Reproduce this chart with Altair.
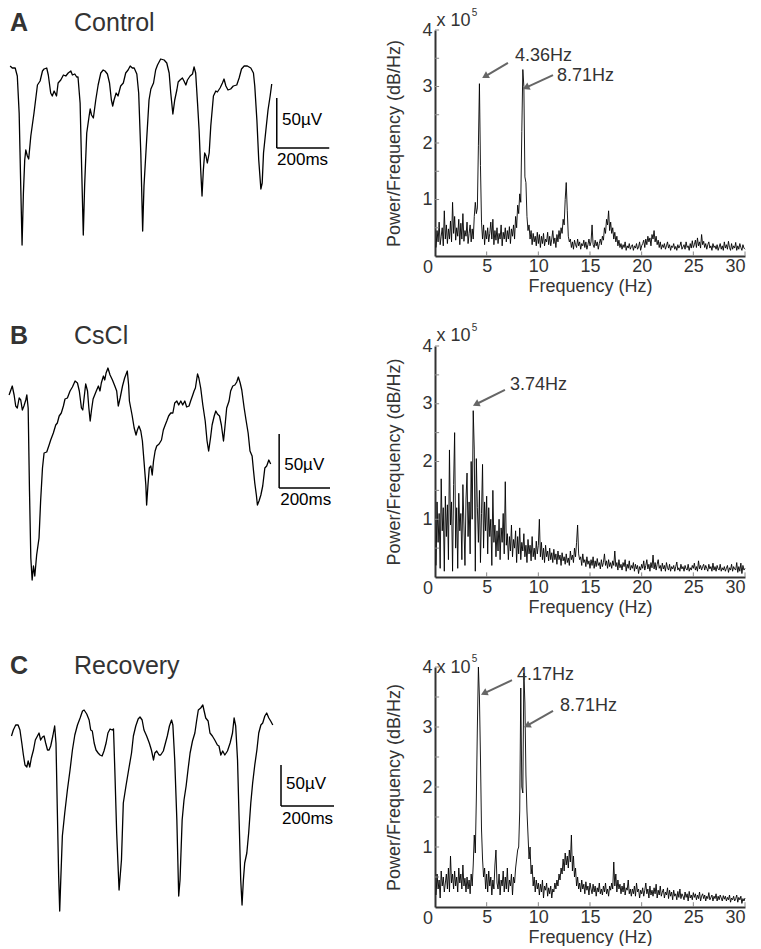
import altair as alt
import pandas as pd

FONT = "Liberation Sans"
INK = "#333333"

# ---------------- raw traces (time in ms, amplitude in µV, relative) ----------------
TA_T = [23,31,42,50,57,63,68,73,78,82,88,93,101,113,126,136,145,151,161,167,
        176,182,189,198,204,214,224,233,242,252,258,267,274,279,287,293,299,304,312,321,
        325,330,337,346,355,365,374,381,390,398,405,410,415,423,430,440,450,459,468,476,
        484,491,501,508,516,523,528,538,547,554,564,572,579,591,604,614,623,629,637,644,
        652,657,664,673,679,686,692,702,711,717,723,730,736,742,747,752,757,762,767,774,
        780,790,799,805,815,824,830,837,845,855,865,878,887,896,906,918,931,941,946,954,
        961,969,974,979,988,996,1004,1010]
TA_V = [-13,-15,-15,-23,-60,-133,-192,-140,-107,-97,-103,-106,-83,-60,-32,-28,-18,-16,-15,-22,
        -40,-43,-38,-43,-30,-27,-22,-23,-20,-18,-22,-21,-24,-24,-50,-117,-182,-133,-80,-63,
        -56,-62,-65,-47,-32,-20,-17,-18,-21,-30,-47,-53,-47,-40,-43,-33,-30,-20,-17,-13,
        -15,-15,-21,-40,-100,-178,-133,-87,-47,-36,-30,-17,-12,-6,-7,-10,-20,-40,-61,-47,
        -37,-29,-27,-25,-28,-32,-27,-23,-21,-14,-20,-50,-77,-117,-143,-117,-100,-103,-110,-100,
        -73,-43,-38,-39,-35,-30,-26,-33,-37,-36,-33,-32,-25,-16,-13,-13,-15,-20,-33,-67,
        -107,-136,-130,-100,-77,-57,-43,-31]

TB_T = [19,31,38,44,50,57,63,69,75,82,86,91,96,101,106,111,116,123,132,138,
        145,151,161,170,176,186,195,201,208,216,224,230,239,249,258,268,277,284,292,297,
        302,308,315,320,325,330,336,342,348,356,362,367,375,380,385,392,400,409,418,425,
        431,438,447,455,465,470,473,478,483,491,498,503,509,516,522,528,535,538,543,548,
        554,559,564,570,576,585,594,601,608,614,621,629,637,644,652,659,667,674,682,689,
        698,704,712,717,722,730,735,742,750,759,766,772,779,785,793,799,805,813,820,828,
        833,840,849,855,863,871,878,884,891,897,906,913,921,928,936,941,946,952,956,962,
        969,976,984,991,999,1006]
TB_V = [-37,-28,-37,-48,-50,-40,-42,-52,-48,-42,-37,-50,-133,-200,-222,-208,-218,-197,-180,-143,
        -110,-95,-94,-87,-82,-75,-67,-65,-58,-55,-48,-41,-40,-33,-29,-23,-25,-33,-50,-52,
        -40,-26,-33,-50,-63,-52,-41,-37,-33,-28,-33,-25,-18,-22,-15,-10,-17,-22,-28,-33,
        -48,-40,-28,-20,-13,-27,-43,-50,-57,-70,-77,-72,-68,-73,-83,-103,-127,-147,-127,-110,
        -108,-117,-103,-93,-88,-86,-82,-72,-67,-63,-58,-55,-55,-45,-43,-47,-43,-47,-43,-49,
        -48,-43,-37,-33,-30,-16,-20,-30,-47,-63,-83,-93,-80,-67,-58,-53,-56,-58,-67,-83,
        -70,-50,-43,-33,-28,-27,-24,-19,-25,-32,-50,-62,-75,-93,-98,-112,-125,-137,-147,-143,
        -137,-128,-110,-108,-102,-106]

TC_T = [28,35,44,53,60,67,73,79,86,91,97,103,111,118,126,132,138,145,151,157,
        164,170,176,184,191,196,201,206,210,214,220,229,239,249,258,267,277,287,296,302,
        312,321,327,333,340,347,355,362,370,377,385,392,400,408,413,418,425,434,443,450,
        460,470,481,488,497,506,513,521,528,538,548,556,564,569,576,585,591,601,609,616,
        624,632,637,644,652,659,664,672,679,687,694,702,711,720,727,733,742,750,755,761,
        770,777,786,795,805,811,818,825,833,843,853,862,868,874,881,887,893,898,903,908,
        916,923,931,938,946,954,961,969,976,984,991,999,1006,1014]
TC_V = [-43,-37,-32,-32,-37,-50,-62,-72,-74,-68,-74,-65,-57,-47,-43,-40,-47,-44,-43,-50,
        -57,-57,-53,-43,-33,-50,-117,-183,-218,-187,-143,-120,-97,-77,-57,-42,-32,-25,-18,-17,
        -21,-27,-37,-38,-50,-57,-60,-62,-63,-58,-50,-40,-36,-37,-36,-77,-140,-197,-167,-110,
        -93,-77,-60,-43,-33,-26,-24,-27,-37,-43,-50,-57,-67,-60,-58,-62,-62,-58,-50,-43,
        -33,-27,-32,-67,-127,-203,-187,-127,-107,-93,-77,-60,-48,-40,-27,-17,-15,-12,-18,-25,
        -28,-40,-43,-47,-52,-53,-62,-58,-62,-58,-50,-40,-25,-33,-67,-127,-187,-212,-187,-170,
        -160,-140,-110,-90,-72,-57,-40,-32,-30,-23,-20,-25,-28,-32]

# ---------------- spectra (x 10^5), frequency grid 0.1 .. 30.0 Hz ----------------
FREQ = [round(0.1 * i, 1) for i in range(1, 301)]

SA = [0.15,0.45,0.25,0.60,0.20,0.35,0.50,0.18,0.80,0.30,
      0.55,0.22,0.48,0.30,0.62,0.25,0.95,0.40,0.70,0.28,
      0.50,0.35,0.65,0.20,0.58,0.30,0.75,0.26,0.45,0.35,
      0.60,0.22,0.40,0.55,0.25,0.48,0.30,0.70,0.95,0.75,
      0.85,1.95,3.05,1.60,0.60,0.30,0.55,0.20,0.45,0.30,
      0.50,0.25,0.40,0.60,0.30,0.65,0.20,0.45,0.28,0.50,
      0.22,0.40,0.30,0.55,0.18,0.42,0.30,0.50,0.25,0.45,
      0.30,0.52,0.22,0.48,0.35,0.55,0.30,0.70,0.50,0.90,
      0.75,1.10,0.95,2.20,3.30,3.00,1.40,1.30,0.70,0.45,
      0.55,0.30,0.45,0.20,0.40,0.25,0.35,0.18,0.42,0.22,
      0.38,0.15,0.35,0.22,0.40,0.18,0.30,0.25,0.42,0.20,
      0.35,0.18,0.30,0.45,0.22,0.32,0.15,0.38,0.25,0.45,
      0.30,0.50,0.40,0.65,0.55,1.00,1.30,0.80,0.35,0.25,
      0.30,0.15,0.25,0.12,0.28,0.20,0.15,0.30,0.18,0.25,
      0.12,0.22,0.18,0.28,0.15,0.25,0.12,0.20,0.30,0.18,
      0.25,0.55,0.20,0.15,0.28,0.18,0.25,0.12,0.22,0.30,
      0.20,0.35,0.28,0.50,0.40,0.65,0.55,0.80,0.45,0.60,
      0.40,0.50,0.30,0.42,0.25,0.35,0.18,0.28,0.15,0.22,
      0.12,0.20,0.15,0.25,0.10,0.18,0.14,0.22,0.12,0.17,
      0.20,0.10,0.18,0.14,0.22,0.12,0.16,0.25,0.10,0.18,
      0.22,0.28,0.15,0.30,0.20,0.35,0.25,0.32,0.18,0.38,
      0.30,0.45,0.25,0.35,0.20,0.28,0.15,0.25,0.12,0.20,
      0.15,0.22,0.12,0.18,0.25,0.14,0.20,0.10,0.18,0.15,
      0.22,0.12,0.17,0.10,0.20,0.14,0.18,0.25,0.12,0.16,
      0.20,0.12,0.25,0.15,0.18,0.10,0.22,0.14,0.27,0.15,
      0.20,0.28,0.15,0.32,0.18,0.25,0.14,0.38,0.20,0.26,
      0.15,0.22,0.12,0.20,0.25,0.14,0.18,0.10,0.22,0.15,
      0.18,0.12,0.20,0.10,0.16,0.22,0.12,0.18,0.10,0.25,
      0.14,0.20,0.12,0.26,0.15,0.10,0.22,0.12,0.18,0.14,
      0.24,0.10,0.18,0.12,0.22,0.15,0.10,0.20,0.14,0.12]

SB = [0.20,1.30,0.60,1.10,0.15,1.70,0.80,1.20,0.10,1.40,
      0.70,1.25,0.30,2.20,0.90,1.30,0.10,1.60,2.50,0.50,
      1.20,0.15,1.45,0.80,1.10,0.30,1.60,0.90,0.20,1.35,
      1.80,0.70,1.30,0.40,2.00,1.00,2.88,2.20,0.10,2.05,
      1.20,0.60,1.50,0.25,1.10,1.95,0.50,1.30,0.80,1.40,
      0.40,1.20,0.70,1.00,0.20,1.50,0.60,0.90,0.35,0.80,
      0.45,1.00,0.30,0.85,0.60,1.10,0.40,1.65,0.55,0.75,
      0.30,0.70,0.45,0.90,0.35,0.65,0.50,0.80,0.25,0.70,
      0.40,0.85,0.30,0.60,0.45,0.75,0.35,0.55,0.25,0.65,
      0.40,0.55,0.28,0.70,0.35,0.50,0.30,0.62,0.40,0.55,
      1.00,0.35,0.60,0.30,0.50,0.25,0.55,0.35,0.45,0.28,
      0.50,0.30,0.42,0.25,0.48,0.30,0.40,0.22,0.45,0.30,
      0.38,0.20,0.42,0.28,0.35,0.22,0.40,0.25,0.33,0.20,
      0.45,0.30,0.38,0.25,0.50,0.35,0.60,0.90,0.40,0.30,
      0.35,0.20,0.40,0.25,0.30,0.18,0.35,0.22,0.28,0.15,
      0.30,0.20,0.35,0.15,0.28,0.18,0.32,0.20,0.25,0.14,
      0.30,0.18,0.25,0.40,0.20,0.28,0.15,0.30,0.18,0.25,
      0.15,0.28,0.20,0.45,0.18,0.25,0.12,0.30,0.16,0.22,
      0.12,0.25,0.18,0.30,0.10,0.22,0.15,0.28,0.12,0.20,
      0.15,0.25,0.10,0.22,0.14,0.20,0.06,0.18,0.12,0.22,
      0.15,0.28,0.12,0.20,0.30,0.14,0.22,0.10,0.25,0.16,
      0.38,0.14,0.25,0.12,0.22,0.30,0.15,0.20,0.10,0.24,
      0.14,0.20,0.10,0.25,0.16,0.12,0.22,0.10,0.18,0.14,
      0.20,0.10,0.18,0.26,0.12,0.16,0.10,0.22,0.14,0.18,
      0.10,0.20,0.14,0.12,0.22,0.10,0.16,0.12,0.20,0.15,
      0.24,0.12,0.18,0.10,0.28,0.14,0.20,0.12,0.18,0.22,
      0.12,0.20,0.15,0.10,0.22,0.14,0.18,0.10,0.24,0.12,
      0.18,0.10,0.20,0.14,0.12,0.22,0.10,0.16,0.12,0.18,
      0.10,0.15,0.20,0.08,0.16,0.12,0.22,0.10,0.18,0.14,
      0.12,0.25,0.08,0.18,0.10,0.24,0.06,0.20,0.12,0.15]

SC = [0.20,0.55,0.30,0.45,0.15,0.60,0.35,0.50,0.25,0.40,
      0.55,0.30,0.65,0.25,0.85,0.40,0.55,0.30,0.60,0.35,
      0.50,0.25,0.65,0.40,0.55,0.30,0.70,0.35,0.48,0.25,
      0.50,0.30,0.45,0.22,0.55,0.35,0.70,1.20,0.90,1.80,
      3.00,4.00,3.50,2.50,1.30,0.80,0.50,0.65,0.30,0.55,
      0.25,0.60,0.35,0.50,0.20,0.45,0.30,0.70,0.95,0.40,
      0.30,0.55,0.20,0.45,0.35,0.60,0.25,0.50,0.30,0.65,
      0.25,0.45,0.35,0.55,0.20,0.50,0.40,0.65,0.80,0.95,
      1.00,1.60,3.65,2.00,1.90,3.90,3.40,2.20,1.60,1.20,
      0.80,1.00,0.55,0.70,0.35,0.50,0.25,0.45,0.30,0.40,
      0.20,0.38,0.25,0.45,0.15,0.35,0.28,0.40,0.18,0.32,
      0.22,0.35,0.15,0.30,0.25,0.40,0.30,0.45,0.35,0.55,
      0.45,0.65,0.55,0.80,0.60,0.90,0.70,0.85,0.65,0.95,
      0.75,1.20,0.60,0.85,0.50,0.65,0.35,0.50,0.30,0.40,
      0.25,0.45,0.30,0.38,0.22,0.42,0.28,0.35,0.20,0.40,
      0.30,0.22,0.38,0.25,0.35,0.18,0.32,0.25,0.40,0.22,
      0.30,0.20,0.35,0.25,0.40,0.22,0.30,0.18,0.35,0.28,
      0.40,0.30,0.75,0.35,0.55,0.25,0.45,0.30,0.38,0.22,
      0.35,0.25,0.40,0.20,0.32,0.28,0.45,0.22,0.30,0.18,
      0.30,0.22,0.35,0.18,0.40,0.25,0.30,0.15,0.28,0.22,
      0.32,0.18,0.28,0.40,0.22,0.30,0.15,0.35,0.20,0.28,
      0.18,0.32,0.22,0.38,0.15,0.28,0.20,0.35,0.18,0.25,
      0.30,0.15,0.25,0.20,0.32,0.14,0.28,0.18,0.25,0.12,
      0.28,0.18,0.22,0.12,0.26,0.16,0.30,0.14,0.22,0.18,
      0.12,0.25,0.16,0.22,0.10,0.26,0.15,0.20,0.12,0.24,
      0.16,0.22,0.12,0.20,0.14,0.25,0.10,0.18,0.22,0.14,
      0.20,0.10,0.18,0.14,0.24,0.12,0.16,0.20,0.10,0.18,
      0.14,0.22,0.10,0.18,0.12,0.20,0.15,0.10,0.19,0.13,
      0.18,0.10,0.16,0.12,0.20,0.08,0.15,0.12,0.18,0.10,
      0.14,0.20,0.08,0.16,0.12,0.18,0.06,0.14,0.10,0.15]

Y_TICKS = [0.5, 1, 1.5, 2, 2.5, 3, 3.5, 4]
X_TICKS = [5, 10, 15, 20, 25, 30]


def trace_panel(t, v, ydom, h, letter, name, title_v, bar, uv_pos, ms_pos):
    xs = alt.Scale(domain=[30, 1294], nice=False, zero=False)
    ys = alt.Scale(domain=ydom, nice=False, zero=False)

    def X(f):
        return alt.X(f, type="quantitative", scale=xs, axis=None)

    def Y(f):
        return alt.Y(f, type="quantitative", scale=ys, axis=None)

    line = alt.Chart(pd.DataFrame({"t": t, "v": v})).mark_line(
        color="black", strokeWidth=1.3, strokeJoin="round"
    ).encode(x=X("t"), y=Y("v"))
    bx0, bx1, by0, by1 = bar
    bar_df = pd.DataFrame({"x": [bx0, bx0], "x2": [bx0, bx1], "y": [by0, by1], "y2": [by1, by1]})
    bars = alt.Chart(bar_df).mark_rule(color="black", strokeWidth=1.5).encode(
        x=X("x"), x2="x2", y=Y("y"), y2="y2")
    sb = alt.Chart(pd.DataFrame({"x": [uv_pos[0], ms_pos[0]], "y": [uv_pos[1], ms_pos[1]],
                                 "s": ["50µV", "200ms"]})).mark_text(
        align="left", baseline="middle", font=FONT, fontSize=17, color="black"
    ).encode(x=X("x"), y=Y("y"), text="s:N")
    let = alt.Chart(pd.DataFrame({"x": [22], "y": [title_v], "s": [letter]})).mark_text(
        align="left", baseline="middle", font=FONT, fontSize=25, fontWeight="bold", color=INK
    ).encode(x=X("x"), y=Y("y"), text="s:N")
    nm = alt.Chart(pd.DataFrame({"x": [264], "y": [title_v], "s": [name]})).mark_text(
        align="left", baseline="middle", font=FONT, fontSize=25, color=INK
    ).encode(x=X("x"), y=Y("y"), text="s:N")
    return alt.layer(line, bars, sb, let, nm).properties(width=335, height=h)


def spec_panel(p, h, notes, arrows, x10_v, sup_v):
    xs = alt.Scale(domain=[0, 30], nice=False, zero=False)
    ys = alt.Scale(domain=[0, 4], nice=False, zero=False)
    xaxis = alt.Axis(values=X_TICKS, format="d", title="Frequency (Hz)", ticks=False, grid=False,
                     domainColor=INK, domainWidth=2, labelFontSize=18, labelPadding=1,
                     labelColor=INK, labelFont=FONT, labelOverlap=False, labelFlush=True,
                     titleFontSize=18, titleFont=FONT, titleColor=INK, titleFontWeight="normal",
                     titlePadding=2)
    yaxis = alt.Axis(values=[1, 2, 3, 4], format="d", title="Power/Frequency (dB/Hz)", ticks=False,
                     grid=False, domainColor=INK, domainWidth=2, labelFontSize=18, labelPadding=3,
                     labelColor=INK, labelFont=FONT, labelOverlap=False, labelFlush=False,
                     titleFontSize=18, titleFont=FONT, titleColor=INK, titleFontWeight="normal",
                     titlePadding=18)

    def X(f):
        return alt.X(f, type="quantitative", scale=xs, axis=xaxis)

    def Y(f):
        return alt.Y(f, type="quantitative", scale=ys, axis=yaxis)

    line = alt.Chart(pd.DataFrame({"f": FREQ, "p": p})).mark_line(
        color="#000000", strokeWidth=0.9
    ).encode(x=X("f"), y=Y("p"))

    yt = alt.Chart(pd.DataFrame({"f": [0] * len(Y_TICKS), "f2": [0.4] * len(Y_TICKS), "p": Y_TICKS})).mark_rule(
        color="#888888", strokeWidth=1).encode(x=X("f"), x2="f2", y=Y("p"))
    xt = alt.Chart(pd.DataFrame({"f": X_TICKS, "p": [0] * len(X_TICKS), "p2": [0.08] * len(X_TICKS)})).mark_rule(
        color="#888888", strokeWidth=1).encode(x=X("f"), y=Y("p"), y2="p2")

    nd = pd.DataFrame({"f": [n[1] for n in notes], "p": [n[2] for n in notes], "s": [n[0] for n in notes]})
    ntxt = alt.Chart(nd).mark_text(align="left", baseline="middle", font=FONT, fontSize=18, color=INK).encode(
        x=X("f"), y=Y("p"), text="s:N")

    ad = pd.DataFrame({"f": [a[0] for a in arrows], "p": [a[1] for a in arrows],
                       "f2": [a[2] for a in arrows], "p2": [a[3] for a in arrows],
                       "ang": [a[4] for a in arrows]})
    shafts = alt.Chart(ad).mark_rule(color="#666666", strokeWidth=2).encode(
        x=X("f"), y=Y("p"), x2="f2", y2="p2")
    heads = alt.Chart(ad).transform_calculate(hf="datum.f2", hp="datum.p2").mark_point(
        shape="triangle", filled=True, color="#666666", size=60, opacity=1).encode(
        x=X("hf:Q"), y=Y("hp:Q"), angle=alt.Angle("ang:Q", scale=None))

    x10 = alt.Chart(pd.DataFrame({"f": [0.15], "p": [x10_v], "s": ["x 10"]})).mark_text(
        align="left", baseline="middle", font=FONT, fontSize=18, color=INK).encode(x=X("f"), y=Y("p"), text="s:N")
    sup = alt.Chart(pd.DataFrame({"f": [3.55], "p": [sup_v], "s": ["5"]})).mark_text(
        align="left", baseline="middle", font=FONT, fontSize=10, color=INK).encode(x=X("f"), y=Y("p"), text="s:N")
    zero = alt.Chart(pd.DataFrame({"f": [0], "p": [0], "s": ["0"]})).mark_text(
        align="center", baseline="middle", font=FONT, fontSize=18, color=INK, dx=-7, dy=12).encode(
        x=X("f"), y=Y("p"), text="s:N")

    return alt.layer(line, yt, xt, shafts, heads, ntxt, x10, sup, zero).properties(width=310, height=h)


panels = [
    trace_panel(TA_T, TA_V, [-203, 23], 226, "A", "Control", 30,
                (1029, 1227, -45, -95), (1049, -67), (1030, -107)),
    spec_panel(SA, 226, [("4.36Hz", 7.74, 3.54), ("8.71Hz", 11.81, 3.19)],
               [(7.06, 3.42, 4.94, 3.19, 239), (11.42, 3.20, 8.90, 2.99, 245)], 4.16, 4.30),
    trace_panel(TB_T, TB_V, [-219, 12], 231, "B", "CsCl", 22,
                (1038, 1230, -76, -130), (1057, -107), (1042, -142)),
    spec_panel(SB, 231, [("3.74Hz", 7.26, 3.32)],
               [(6.77, 3.24, 4.06, 3.00, 243)], 4.17, 4.31),
    trace_panel(TC_T, TC_V, [-214, 26], 240, "C", "Recovery", 27,
                (1045, 1245, -72, -113), (1064, -91), (1049, -126)),
    spec_panel(SC, 240, [("4.17Hz", 7.94, 3.87), ("8.71Hz", 12.1, 3.35)],
               [(7.45, 3.78, 4.84, 3.57, 244), (11.42, 3.27, 9.0, 3.03, 241)], 3.98, 4.14),
]

chart = alt.concat(*panels, columns=2, spacing={"row": 90, "column": 88},
                   bounds="flush", align="each").properties(
    padding=0, background="white"
).configure_view(stroke=None)

chart.save("out.html", embed_options={"renderer": "svg", "actions": False})
